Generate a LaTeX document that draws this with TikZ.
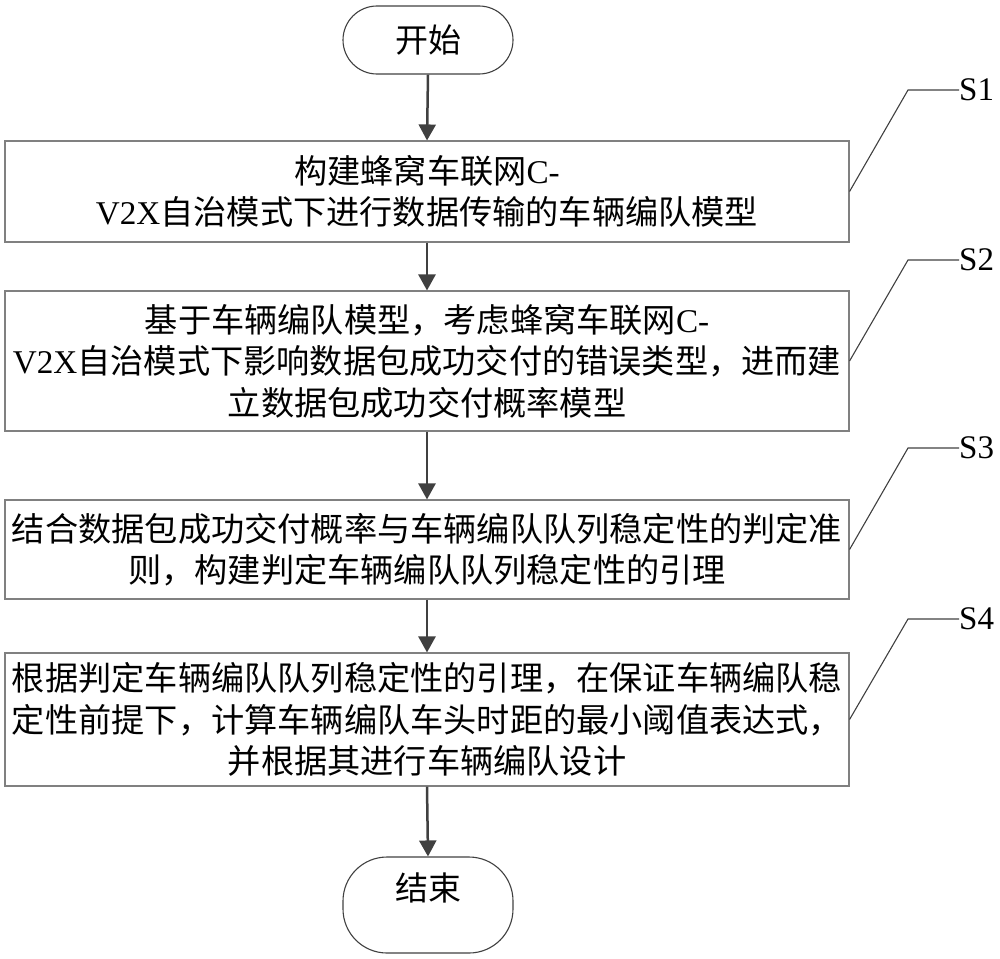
\documentclass[tikz,border=0pt]{standalone}
\usepackage{fontspec}
\setmainfont{Liberation Serif}
\newfontfamily\cjk{Noto Sans CJK SC}
\usetikzlibrary{arrows.meta}
\newcommand{\lat}[1]{{\rmfamily #1}}
\definecolor{boxgray}{HTML}{808080}
\definecolor{darkgray}{HTML}{404040}
\tikzset{
  stepbox/.style={draw=boxgray, line width=1.1pt, minimum width=844pt, inner sep=0pt, align=center,
    font=\cjk\fontsize{33.2}{41.5}\selectfont},
  term/.style={draw=darkgray, line width=1.1pt, minimum width=170pt, inner sep=0pt,
    font=\cjk\fontsize{33}{41.5}\selectfont},
  flow/.style={draw=darkgray, line width=2.5pt, -{Triangle[length=16pt,width=17pt]}},
  leader/.style={draw=darkgray, line width=1.1pt},
  steplabel/.style={anchor=west, inner sep=0pt, font=\rmfamily\fontsize{33}{33}\selectfont}
}
\begin{document}
\begin{tikzpicture}[x=1pt,y=-1pt]
\useasboundingbox (0,0) rectangle (1000,958);
\node[term, minimum height=68pt, rounded corners=34pt] (start) at (428,40) {开始};
\node[stepbox, minimum height=101pt] (s1) at (427,191.5)
  {构建蜂窝车联网\lat{C-}\\\lat{V2X}自治模式下进行数据传输的车辆编队模型};
\node[stepbox, minimum height=140pt] (s2) at (427,361)
  {基于车辆编队模型，考虑蜂窝车联网\lat{C-}\\\lat{V2X}自治模式下影响数据包成功交付的错误类型，进而建\\立数据包成功交付概率模型};
\node[stepbox, minimum height=99pt] (s3) at (427,549.5)
  {结合数据包成功交付概率与车辆编队队列稳定性的判定准\\则，构建判定车辆编队队列稳定性的引理};
\node[stepbox, minimum height=133pt] (s4) at (427,719.5)
  {根据判定车辆编队队列稳定性的引理，在保证车辆编队稳\\定性前提下，计算车辆编队车头时距的最小阈值表达式，\\并根据其进行车辆编队设计};
\node[term, minimum height=96pt, rounded corners=44pt] (end) at (428,905) {};
\node[font=\cjk\fontsize{33}{41.5}\selectfont, inner sep=0pt] (endtext) at (428,888) {结束};

\draw[flow] (start.south) -- (s1.north);
\draw[flow] (s1.south) -- (s2.north);
\draw[flow] (s2.south) -- (s3.north);
\draw[flow] (s3.south) -- (s4.north);
\draw[flow] (s4.south) -- (end.north);

\node[steplabel] (l1) at (959,90) {S1};
\node[steplabel] (l2) at (959,260) {S2};
\node[steplabel] (l3) at (959,448) {S3};
\node[steplabel] (l4) at (959,619) {S4};
\coordinate (k1) at (908,90);
\coordinate (k2) at (908,260);
\coordinate (k3) at (908,448);
\coordinate (k4) at (908,619);
\draw[leader] (s1.east) -- (k1) -- (l1.west);
\draw[leader] (s2.east) -- (k2) -- (l2.west);
\draw[leader] (s3.east) -- (k3) -- (l3.west);
\draw[leader] (s4.east) -- (k4) -- (l4.west);
\end{tikzpicture}
\end{document}
